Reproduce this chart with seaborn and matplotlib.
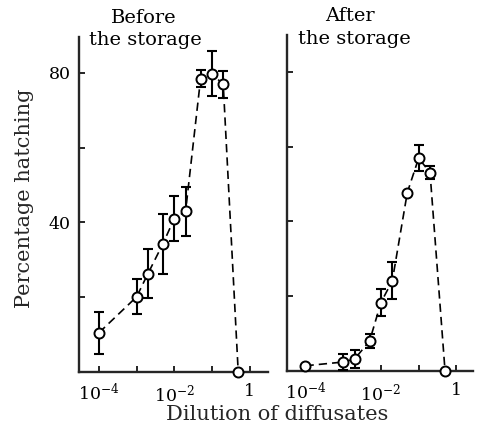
import matplotlib
matplotlib.use("Agg")
import matplotlib.pyplot as plt
import seaborn as sns
from matplotlib.ticker import FixedLocator, FixedFormatter, NullLocator

# Dilution series (fraction of diffusate)
dilution = [1e-4, 1e-3, 2e-3, 5e-3, 1e-2, 2e-2, 5e-2, 1e-1, 2e-1, 5e-1]

# Percentage hatching, mean and error, before storage
before_mean = [10.5, 20.1, 26.3, 34.3, 41.0, 43.0, 78.4, 79.8, 76.9, 0.0]
before_err = [5.6, 4.7, 6.6, 8.0, 6.0, 6.6, 2.3, 6.1, 3.7, 0.0]

# Percentage hatching, mean and error, after storage
after_mean = [1.4, 2.4, 3.2, 8.0, 18.3, 24.1, 47.7, 56.9, 53.0, 0.0]
after_err = [0.0, 2.2, 2.4, 1.8, 3.7, 4.9, 0.0, 3.4, 1.7, 0.0]

x_ticks = [1e-4, 1e-3, 1e-2, 1e-1, 1.0]
x_tick_labels = [r"$10^{-4}$", "", r"$10^{-2}$", "", "1"]
y_ticks = [20, 40, 60, 80]
y_tick_labels = ["", "40", "", "80"]

sns.set_style("ticks")
plt.rcParams["font.family"] = ["DejaVu Serif"]
plt.rcParams["mathtext.fontset"] = "dejavuserif"

fig = plt.figure(figsize=(4.79, 4.32), dpi=100)
ax_before = fig.add_axes([79 / 479, 1 - 372 / 432, 189 / 479, 335 / 432])
ax_after = fig.add_axes([287 / 479, 1 - 371 / 432, 186 / 479, 336 / 432])


def draw_panel(ax, mean, err, xlim, ylim, show_labels):
    sns.lineplot(x=dilution, y=mean, ax=ax, color="black", linewidth=1.2,
                 linestyle=(0, (5, 3)), sort=False, zorder=2)
    ax.errorbar(dilution, mean, yerr=err, fmt="none", ecolor="black",
                elinewidth=1.5, capsize=3.5, capthick=1.5, zorder=3)
    sns.scatterplot(x=dilution, y=mean, ax=ax, marker="o", s=52,
                    facecolor="white", edgecolor="black", linewidth=1.4,
                    zorder=4, clip_on=False)
    ax.set_xscale("log")
    ax.set_xlim(*xlim)
    ax.set_ylim(*ylim)
    ax.xaxis.set_major_locator(FixedLocator(x_ticks))
    ax.xaxis.set_major_formatter(FixedFormatter(x_tick_labels))
    ax.xaxis.set_minor_locator(NullLocator())
    ax.yaxis.set_major_locator(FixedLocator(y_ticks))
    ax.yaxis.set_major_formatter(FixedFormatter(y_tick_labels if show_labels
                                                else [""] * len(y_ticks)))
    ax.yaxis.set_minor_locator(NullLocator())
    for side in ("top", "right"):
        ax.spines[side].set_visible(False)
    for side in ("left", "bottom"):
        ax.spines[side].set_linewidth(1.7)
    ax.tick_params(direction="in", length=4, width=1.2, labelsize=12.5,
                   colors="black", pad=6)
    ax.tick_params(axis="x", pad=8)
    ax.set_xlabel("")
    ax.set_ylabel("")


draw_panel(ax_before, before_mean, before_err,
           (10 ** -4.53, 10 ** 0.49), (0, 89.6), True)
draw_panel(ax_after, after_mean, after_err,
           (10 ** -4.49, 10 ** 0.44), (0, 89.8), False)

title_kw = dict(ha="center", va="center", fontsize=14, color="black")
fig.text(144 / 479, 1 - 18 / 432, "Before", **title_kw)
fig.text(145 / 479, 1 - 40 / 432, "the storage", **title_kw)
fig.text(350 / 479, 1 - 16 / 432, "After", **title_kw)
fig.text(354 / 479, 1 - 39 / 432, "the storage", **title_kw)

fig.text(277 / 479, 1 - 415 / 432, "Dilution of diffusates",
         ha="center", va="center", fontsize=15)
fig.text(25 / 479, 1 - 198 / 432, "Percentage hatching", rotation=90,
         ha="center", va="center", fontsize=15)

fig.savefig("out.png", dpi=100)
